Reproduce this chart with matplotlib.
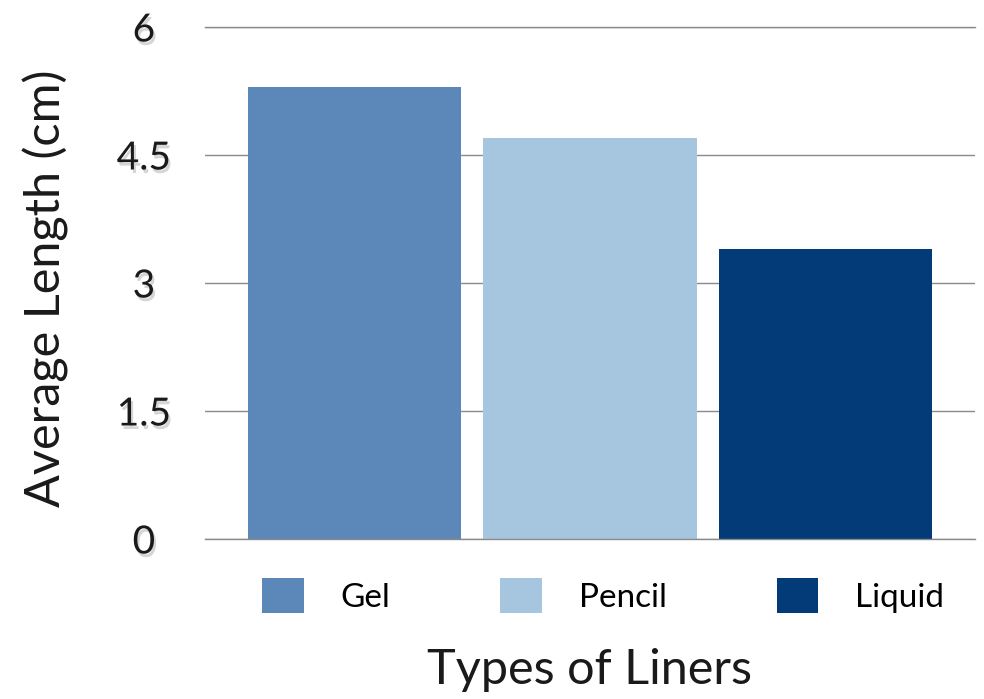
import matplotlib.pyplot as plt
import matplotlib.patheffects as pe
from matplotlib.patches import Patch

# ----------------------------------------------------------------------------
# Data
liners = ["Gel", "Pencil", "Liquid"]
avg_length = [5.3, 4.7, 3.4]
colors = ["#5b87b9", "#a6c6e0", "#023b78"]
y_ticks = [0, 1.5, 3, 4.5, 6]
y_tick_labels = ["0", "1.5", "3", "4.5", "6"]

plt.rcParams["font.family"] = ["Lato", "DejaVu Sans"]

# ----------------------------------------------------------------------------
# Plot
fig = plt.figure(figsize=(9.84, 6.99), dpi=100)
ax = fig.add_axes([0.2083, 0.2289, 0.7826, 0.7325])

x = list(range(len(liners)))
ax.bar(x, avg_length, width=0.907, color=colors, zorder=2)

ax.set_xlim(-0.635, len(liners) - 1 + 0.635)
ax.set_ylim(0, 6)
ax.set_yticks(y_ticks)
ax.set_yticklabels(y_tick_labels)
ax.set_xticks([])
ax.yaxis.grid(True, color="#8a8a8a", linewidth=1.0, zorder=0)
ax.set_axisbelow(True)
ax.axhline(0, color="#8a8a8a", linewidth=1.0, zorder=3, clip_on=False)
ax.axhline(6, color="#8a8a8a", linewidth=1.0, zorder=3, clip_on=False)
for s in ax.spines.values():
    s.set_visible(False)
ax.tick_params(axis="y", length=0, pad=44, labelsize=28, labelcolor="#1a1a1a")

shadow = [pe.withSimplePatchShadow(offset=(1.5, -2.5), shadow_rgbFace="#888888", alpha=0.35)]
for lbl in ax.get_yticklabels():
    lbl.set_path_effects(shadow)
    lbl.set_horizontalalignment("center")

ax.set_ylabel("Average Length (cm)", fontsize=35, color="#1a1a1a")
ax.yaxis.set_label_coords(-0.177, 0.49)

handles = [Patch(facecolor=c, label=n) for c, n in zip(colors, liners)]
fig.legend(handles=handles, loc="center", bbox_to_anchor=(0.613, 0.148), ncol=3,
           frameon=False, fontsize=24, handlelength=1.25, handleheight=1.25,
           handletextpad=1.1, columnspacing=3.3, borderaxespad=0)

fig.text(0.599, 0.042, "Types of Liners", ha="center", va="center",
         fontsize=35, color="#1a1a1a")

plt.savefig("out.png", dpi=100)
